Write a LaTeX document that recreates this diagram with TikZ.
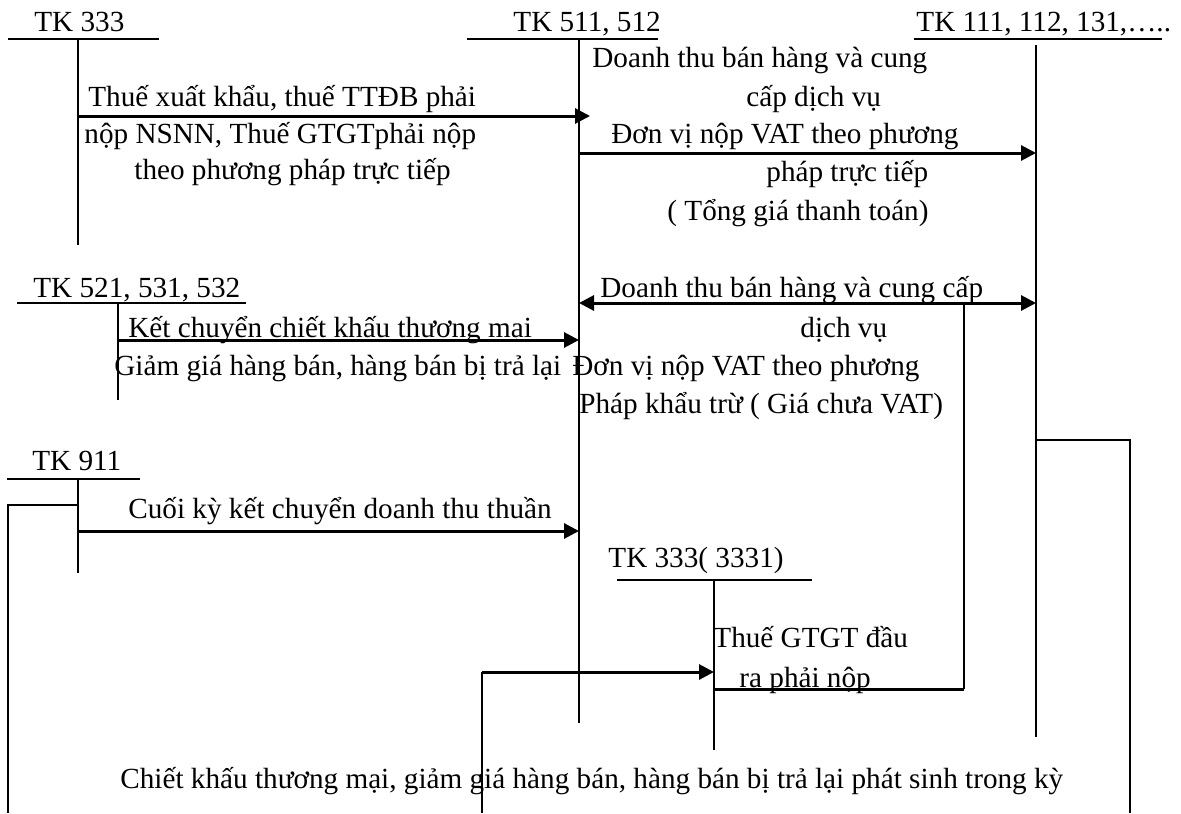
\documentclass[tikz,border=0pt]{standalone}
\usepackage{fontspec}
\setmainfont{Liberation Serif}
\usetikzlibrary{arrows.meta}
\begin{document}
\begin{tikzpicture}[x=0.5pt,y=-0.5pt,
  lbl/.style={anchor=base west, inner sep=0pt, font=\fontsize{14.6}{17}\selectfont},
  tline/.style={line width=1pt},
  flow/.style={line width=1.5pt},
  arr/.style={line width=1.5pt, -{Triangle[length=7.5pt,width=7.5pt]}},
  darr/.style={line width=1.5pt, {Triangle[length=7.5pt,width=7.5pt]}-{Triangle[length=7.5pt,width=7.5pt]}}
]
\useasboundingbox (0,0) rectangle (1181,813);

% ---- T-accounts ----
% TK 333
\coordinate (t333L) at (8,39);   \coordinate (t333R) at (159,39);
\coordinate (t333T) at (78,39);  \coordinate (t333B) at (78,245);
\draw[tline] (t333L) -- (t333R);
\draw[tline] (t333T) -- (t333B);
% TK 511, 512
\coordinate (t511L) at (467,39); \coordinate (t511R) at (658,39);
\coordinate (t511T) at (579,39); \coordinate (t511B) at (579,723);
\draw[tline] (t511L) -- (t511R);
\draw[tline] (t511T) -- (t511B);
% TK 111
\coordinate (t111L) at (914,39); \coordinate (t111R) at (1162,39);
\coordinate (t111T) at (1036,45); \coordinate (t111B) at (1036,737);
\draw[tline] (t111L) -- (t111R);
\draw[tline] (t111T) -- (t111B);
% TK 521
\coordinate (t521L) at (17,303); \coordinate (t521R) at (246,303);
\coordinate (t521T) at (118,303); \coordinate (t521B) at (118,400);
\draw[tline] (t521L) -- (t521R);
\draw[tline] (t521T) -- (t521B);
% TK 911
\coordinate (t911L) at (7,479); \coordinate (t911R) at (140,479);
\coordinate (t911T) at (78,479); \coordinate (t911B) at (78,573);
\draw[tline] (t911L) -- (t911R);
\draw[tline] (t911T) -- (t911B);
% TK 3331
\coordinate (t3331L) at (617,580); \coordinate (t3331R) at (812,580);
\coordinate (t3331T) at (714,580); \coordinate (t3331B) at (714,750);
\draw[tline] (t3331L) -- (t3331R);
\draw[tline] (t3331T) -- (t3331B);

% ---- connector end points ----
\coordinate (a1s) at (78,116);   \coordinate (a1e) at (590,116);
\coordinate (a2s) at (579,153);  \coordinate (a2e) at (1036,153);
\coordinate (a3s) at (579,303);  \coordinate (a3e) at (1036,303);
\coordinate (a4s) at (118,340);  \coordinate (a4e) at (579,340);
\coordinate (a5s) at (78,531);   \coordinate (a5e) at (579,531);
\coordinate (a6s) at (964,303);  \coordinate (a6c) at (964,689); \coordinate (a6e) at (714,689);
\coordinate (a7s) at (482,813);  \coordinate (a7c) at (482,672); \coordinate (a7e) at (714,672);
\coordinate (a8s) at (78,505);   \coordinate (a8c) at (8,505);   \coordinate (a8e) at (8,813);
\coordinate (a9s) at (1036,440); \coordinate (a9c) at (1130,440); \coordinate (a9e) at (1130,813);

\draw[arr] (a1s) -- (a1e);
\draw[arr] (a2s) -- (a2e);
\draw[darr] (a3s) -- (a3e);
\draw[arr] (a4s) -- (a4e);
\draw[arr] (a5s) -- (a5e);
\draw[tline] (a6s) -- (a6c);
\draw[flow] (a6c) -- (a6e);
\draw[tline] (a7s) -- (a7c);
\draw[arr] (a7c) -- (a7e);
\draw[tline] (a8s) -- (a8c) -- (a8e);
\draw[tline] (a9s) -- (a9c) -- (a9e);

% ---- texts ----
\node[lbl] (n333) at (34,32) {TK 333};
\node[lbl] (n511) at (513,32) {TK 511, 512};
\node[lbl] (n111) at (916,32) {TK 111, 112, 131,…..};
\node[lbl] (l1a) at (88,106) {Thuế xuất khẩu, thuế TTĐB phải};
\node[lbl] (l1b) at (84,143) {nộp NSNN, Thuế GTGTphải nộp};
\node[lbl] (l1c) at (134,179) {theo phương pháp trực tiếp};
\node[lbl] (l2a) at (592,68) {Doanh thu bán hàng và cung};
\node[lbl] (l2b) at (746,106) {cấp dịch vụ};
\node[lbl] (l2c) at (611,143) {Đơn vị nộp VAT theo phương};
\node[lbl] (l2d) at (766,181) {pháp trực tiếp};
\node[lbl] (l2e) at (667,220) {( Tổng giá thanh toán)};
\node[lbl] (n521) at (33,297) {TK 521, 531, 532};
\node[lbl] (l3a) at (600,297) {Doanh thu bán hàng và cung cấp};
\node[lbl] (l4a) at (128,337) {Kết chuyển chiết khấu thương mại};
\node[lbl] (l3b) at (800,337) {dịch vụ};
\node[lbl] (l4b) at (114,375) {Giảm giá hàng bán, hàng bán bị trả lại};
\node[lbl] (l3c) at (572,375) {Đơn vị nộp VAT theo phương};
\node[lbl] (l3d) at (579,413) {Pháp khẩu trừ ( Giá chưa VAT)};
\node[lbl] (n911) at (32,470) {TK 911};
\node[lbl] (l5) at (128,518) {Cuối kỳ kết chuyển doanh thu thuần};
\node[lbl] (n3331) at (608,567) {TK 333( 3331)};
\node[lbl] (l6a) at (713,647) {Thuế GTGT đầu};
\node[lbl] (l6b) at (739,687) {ra phải nộp};
\node[lbl] (l7) at (120,788) {Chiết khấu thương mại, giảm giá hàng bán, hàng bán bị trả lại phát sinh trong kỳ};
\end{tikzpicture}
\end{document}
